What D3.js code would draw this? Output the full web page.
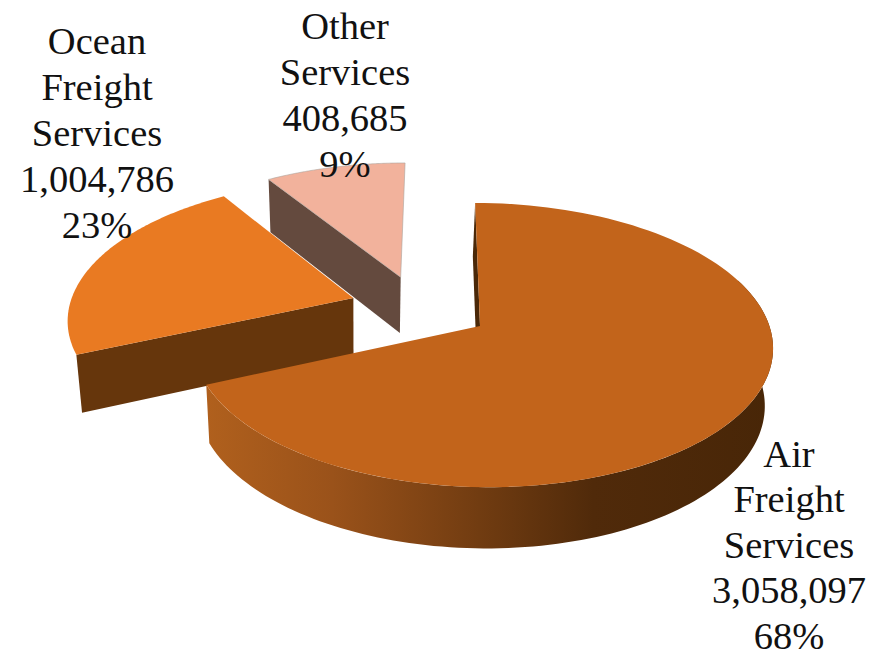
<!DOCTYPE html>
<html>
<head>
<meta charset="utf-8">
<style>
  html, body { margin: 0; padding: 0; background: #fff; }
  text { font-family: "Liberation Serif", "DejaVu Serif", serif; fill: #111; }
</style>
<script src="https://cdn.jsdelivr.net/npm/d3@7/dist/d3.min.js"></script>
</head>
<body>
<svg id="chart" width="877" height="657"></svg>
<script>
// Revenue by service line
const categories = ["Air Freight Services", "Ocean Freight Services", "Other Services"];
const labelLines = [["Air", "Freight", "Services"], ["Ocean", "Freight", "Services"], ["Other", "Services"]];
const revenue = [3058097, 1004786, 408685];
const shareLabels = ["68%", "23%", "9%"];

const topColors = ["#c2641b", "#e97a22", "#f2b29c"];
const wallColors = [null, "#66360c", "#644a3e"];
const explodeU = [0, -0.454, -0.29];
const explodeV = [0, 0.195, 0.36];
const sliceRadius = [1, 1.02, 1.02];
const labelX = [789, 97, 345];
const labelY = [466.5, 54, 39];
const lineGap = [45.5, 46, 46];

// Perspective camera looking down on the disc
const cam = { cx: 480, cy: 326, a: 287.5, b: 139.5, k: 0.134, m: 0.01, tilt: 3.3, depth: 57, vpx: 360, vpk: 0.02 };
const firstAngle = -1.1 * Math.PI / 180;

function project(u, v) {
  const w = 1 + cam.k * v - cam.m * u;
  return [cam.cx + cam.a * u / w, cam.cy - cam.b * v / w + cam.tilt * u];
}
// Same point on the underside of the disc
function projectLow(u, v) {
  const [x, y] = project(u, v);
  const w = 1 + cam.k * v;
  return [x + (cam.vpx - x) * cam.vpk, y + cam.depth / Math.sqrt(w)];
}

const arcPoints = (a0, a1, ou, ov, r, fn) =>
  d3.range(0, 121).map(i => {
    const t = a0 + (a1 - a0) * i / 120;
    return fn(ou + r * Math.sin(t), ov + r * Math.cos(t));
  });

const line = d3.line();
const svg = d3.select("#chart");

const wallGrad = svg.append("defs").append("linearGradient")
  .attr("id", "airWall").attr("gradientUnits", "userSpaceOnUse")
  .attr("x1", 207).attr("x2", 775).attr("y1", 0).attr("y2", 0);
[[0, "#b0601d"], [0.22, "#9a521a"], [0.48, "#713c11"], [0.68, "#502a0a"], [1, "#482607"]]
  .forEach(([o, c]) => wallGrad.append("stop").attr("offset", o).attr("stop-color", c));

const pie = d3.pie().sort(null).startAngle(firstAngle).endAngle(firstAngle + 2 * Math.PI);
const slices = pie(revenue);

// Paint from the back of the scene to the front
[2, 1, 0].forEach(i => {
  const s = slices[i];
  const ou = explodeU[i], ov = explodeV[i], r = sliceRadius[i];
  const g = svg.append("g").attr("class", "slice");

  if (i === 0) {
    // Outer rim of the large slice, plus the cut face at its start
    const rimStart = 1.2;
    const rim = arcPoints(rimStart, s.endAngle, ou, ov, r, project)
      .concat(arcPoints(rimStart, s.endAngle, ou, ov, r, projectLow).reverse());
    g.append("path").attr("d", line(rim) + "Z").attr("fill", "url(#airWall)");
    const ru = r * Math.sin(s.startAngle), rv = r * Math.cos(s.startAngle);
    const cut = [project(ru, rv), project(0, 0), projectLow(0, 0), projectLow(ru, rv)];
    g.append("path").attr("d", line(cut) + "Z").attr("fill", "#4a2808");
  } else {
    // Cut face running from the centre to the slice's leading corner
    const ru = ou + r * Math.sin(s.startAngle), rv = ov + r * Math.cos(s.startAngle);
    const face = [project(ou, ov), project(ru, rv), projectLow(ru, rv), projectLow(ou, ov)];
    g.append("path").attr("d", line(face) + "Z").attr("fill", wallColors[i]);
  }

  const top = [project(ou, ov)].concat(arcPoints(s.startAngle, s.endAngle, ou, ov, r, project));
  g.append("path").attr("d", line(top) + "Z")
    .attr("fill", topColors[i])
    .attr("stroke", i === 2 ? "#a9a29c" : "none")
    .attr("stroke-width", i === 2 ? 0.6 : 0);
});

// Labels: category lines, value, share
const fmt = d3.format(",");
categories.forEach((name, i) => {
  const rows = labelLines[i].concat([fmt(revenue[i]), shareLabels[i]]);
  svg.append("text")
    .attr("text-anchor", "middle")
    .attr("font-size", 38.5)
    .selectAll("tspan").data(rows).join("tspan")
    .attr("x", labelX[i])
    .attr("y", (d, j) => labelY[i] + j * lineGap[i])
    .text(d => d);
});
</script>
</body>
</html>
